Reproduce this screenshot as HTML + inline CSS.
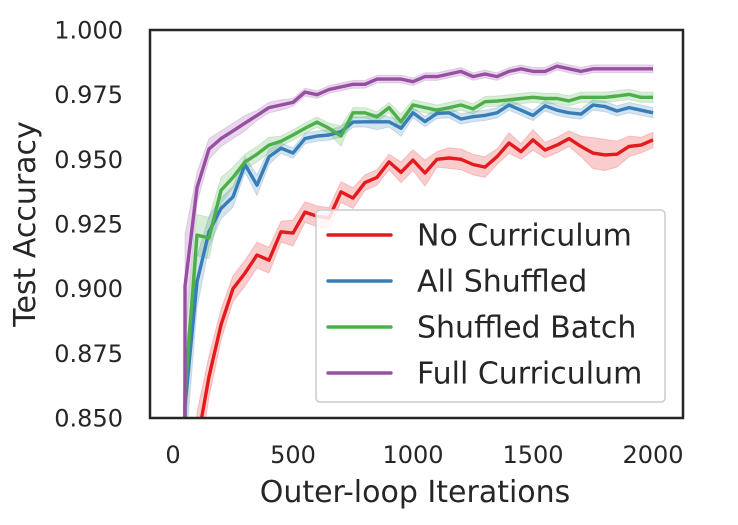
<!DOCTYPE html>
<html><head><meta charset="utf-8"><style>
html,body{margin:0;padding:0;background:#fff;overflow:hidden}
svg{display:block;font-family:"DejaVu Sans","Liberation Sans",sans-serif;fill:#262626}
</style></head><body>
<svg id="chart" width="738" height="525" viewBox="0 0 738 525" xmlns="http://www.w3.org/2000/svg">
<defs><clipPath id="plotclip"><rect x="150" y="30" width="533" height="388"/></clipPath></defs>
<g id="bands" clip-path="url(#plotclip)"></g>
<g id="lines" clip-path="url(#plotclip)"></g>
<rect x="150" y="30" width="533" height="388" fill="none" stroke="#262626" stroke-width="2.5"/>
<g id="yticks"></g><g id="xticks"></g>
<text x="415" y="502" font-size="30" text-anchor="middle">Outer-loop Iterations</text>
<text transform="translate(35,224) rotate(-90)" font-size="30" text-anchor="middle">Test Accuracy</text>
<g id="legend"></g>
</svg>
<script>
const iters=[48,50,100,150,200,250,300,350,400,450,500,550,600,650,700,750,800,850,900,950,1000,1050,1100,1150,1200,1250,1300,1350,1400,1450,1500,1550,1600,1650,1700,1750,1800,1850,1900,1950,2000];
const noCurriculum=[0.5,0.70,0.84,0.866,0.886,0.900,0.906,0.913,0.911,0.922,0.9215,0.9296,0.928,0.9273,0.9374,0.935,0.941,0.943,0.949,0.945,0.9497,0.9447,0.950,0.9505,0.950,0.948,0.947,0.951,0.9563,0.953,0.9575,0.9536,0.9555,0.958,0.955,0.9524,0.9517,0.952,0.955,0.9555,0.9575];
const allShuffled=[0.6,0.855,0.9026,0.922,0.931,0.9355,0.948,0.940,0.951,0.9543,0.9524,0.958,0.959,0.9594,0.9607,0.9644,0.9645,0.9645,0.9645,0.962,0.968,0.9646,0.9678,0.968,0.9656,0.9665,0.967,0.968,0.971,0.969,0.967,0.9707,0.969,0.968,0.9675,0.971,0.9704,0.9687,0.970,0.969,0.968];
const shuffledBatch=[0.6,0.86,0.9207,0.9196,0.938,0.943,0.949,0.952,0.9555,0.957,0.9594,0.962,0.9644,0.962,0.959,0.968,0.968,0.9664,0.970,0.9645,0.971,0.970,0.969,0.970,0.971,0.9695,0.9723,0.9725,0.973,0.9735,0.974,0.9735,0.9735,0.9726,0.974,0.974,0.974,0.9745,0.9751,0.974,0.974];
const fullCurriculum=[0.6,0.901,0.939,0.954,0.958,0.961,0.964,0.967,0.970,0.971,0.972,0.976,0.975,0.977,0.978,0.979,0.979,0.981,0.981,0.981,0.980,0.982,0.982,0.983,0.984,0.982,0.983,0.982,0.984,0.985,0.984,0.984,0.986,0.985,0.984,0.985,0.985,0.985,0.985,0.985,0.985];
const ciRed=[0.02,0.02,0.012,0.008,0.006,0.005,0.005,0.005,0.005,0.004,0.005,0.004,0.004,0.004,0.004,0.004,0.003,0.003,0.003,0.004,0.004,0.005,0.003,0.004,0.004,0.004,0.004,0.003,0.004,0.003,0.004,0.003,0.003,0.003,0.004,0.006,0.006,0.005,0.004,0.003,0.003];
const ciBlue=[0.02,0.02,0.01,0.006,0.004,0.004,0.003,0.004,0.003,0.002,0.002,0.002,0.002,0.002,0.002,0.002,0.002,0.003,0.002,0.003,0.002,0.002,0.002,0.002,0.002,0.002,0.002,0.002,0.002,0.002,0.002,0.002,0.002,0.002,0.002,0.002,0.002,0.002,0.002,0.002,0.002];
const ciGreen=[0.02,0.02,0.008,0.008,0.005,0.004,0.003,0.003,0.003,0.002,0.002,0.002,0.002,0.002,0.004,0.002,0.002,0.002,0.002,0.003,0.002,0.002,0.002,0.002,0.002,0.002,0.002,0.002,0.002,0.002,0.002,0.002,0.002,0.002,0.002,0.002,0.002,0.002,0.002,0.002,0.002];
const ciPurple=[0.02,0.02,0.006,0.004,0.003,0.003,0.003,0.002,0.002,0.002,0.0015,0.0015,0.0015,0.0015,0.0015,0.0015,0.0015,0.0015,0.0015,0.0015,0.0015,0.0015,0.0015,0.0015,0.0015,0.0015,0.0015,0.0015,0.0015,0.0015,0.0015,0.0015,0.0015,0.0015,0.0015,0.0015,0.0015,0.0015,0.0015,0.0015,0.0015];
const yTicks=[0.850,0.875,0.900,0.925,0.950,0.975,1.000];
const xTicks=[0,500,1000,1500,2000];
const seriesNames=["No Curriculum","All Shuffled","Shuffled Batch","Full Curriculum"];
const seriesColors=["#e41a1c","#377eb8","#4daf4a","#984ea3"];

const NS="http://www.w3.org/2000/svg";
function xs(v){return 173+(v-0)*(653-173)/2000;}
function ys(v){return 418-(v-0.85)*(388/0.15);}
function mk(tag,attrs,parent){const e=document.createElementNS(NS,tag);for(const k in attrs)e.setAttribute(k,attrs[k]);parent.appendChild(e);return e;}
const gB=document.getElementById('bands'),gL=document.getElementById('lines');
const all=[noCurriculum,allShuffled,shuffledBatch,fullCurriculum];
const cis=[ciRed,ciBlue,ciGreen,ciPurple];
const keys=["no-curriculum","all-shuffled","shuffled-batch","full-curriculum"];
all.forEach((s,si)=>{
  let up=[],dn=[];
  s.forEach((v,i)=>{up.push(xs(iters[i]).toFixed(1)+","+ys(v+cis[si][i]).toFixed(1));dn.unshift(xs(iters[i]).toFixed(1)+","+ys(v-cis[si][i]).toFixed(1));});
  const b=mk('polygon',{points:up.concat(dn).join(' '),fill:seriesColors[si],'fill-opacity':0.22,stroke:seriesColors[si],'stroke-opacity':0.2},gB);
  
  
  const pts=s.map((v,i)=>xs(iters[i]).toFixed(1)+","+ys(v).toFixed(1)).join(' ');
  const l=mk('polyline',{points:pts,fill:'none',stroke:seriesColors[si],'stroke-width':3.4,'stroke-linejoin':'round'},gL);
  
  
});
const gy=document.getElementById('yticks');
yTicks.forEach(t=>{
  const e=mk('text',{x:123,y:(ys(t)+8.5).toFixed(1),'font-size':24,'text-anchor':'end'},gy);
  e.textContent=t.toFixed(3);
  
  
});
const gx=document.getElementById('xticks');
xTicks.forEach(t=>{
  const e=mk('text',{x:xs(t).toFixed(1),y:463,'font-size':24,'text-anchor':'middle'},gx);
  e.textContent=t;
  
  
});
const lg=document.getElementById('legend');
const fr=mk('rect',{x:316,y:210,width:349,height:192,rx:4,fill:'#fff','fill-opacity':0.85,stroke:'#cccccc','stroke-width':1.5},lg);


seriesNames.forEach((n,i)=>{
  const y=235+i*46;
  const ln=mk('line',{x1:328,x2:391,y1:y,y2:y,stroke:seriesColors[i],'stroke-width':3.4,'stroke-linecap':'round'},lg);
  
  
  const t=mk('text',{x:417,y:y+10.5,'font-size':30},lg);
  t.textContent=n;
  
  
});
</script>
</body></html>
